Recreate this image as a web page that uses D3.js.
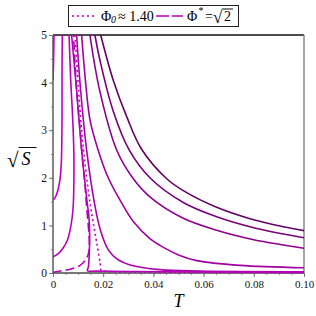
<!DOCTYPE html>
<html>
<head>
<meta charset="utf-8">
<script src="https://cdn.jsdelivr.net/npm/d3@7"></script>
<style>
  body { margin: 0; background: #fff; }
  svg { display: block; }
  svg text { font-family: "Liberation Serif", "Times New Roman", "DejaVu Serif", serif; }
</style>
</head>
<body>
<div id="chart"></div>
<script>
// each curve is a list of [T, sqrt(S)] points
const curveA = [[0, 4.05], [0.0001, 4.2], [0.0002, 4.4], [0.0003, 4.68], [0.0004, 5.0]];
const curveB = [[0, 1.53], [0.001, 1.6], [0.002, 1.75], [0.0028, 1.97], [0.0033, 2.3], [0.0035, 2.7],
                [0.0036, 3.3], [0.0036, 4.2], [0.0037, 5.0]];
const curveC = [[0, 0.34], [0.002, 0.4], [0.0041, 0.53], [0.0058, 0.7], [0.0068, 0.9], [0.0076, 1.15],
                [0.0081, 1.45], [0.0083, 1.85], [0.0083, 2.55], [0.0078, 3.3], [0.0071, 4.0], [0.0064, 5.0]];
const curveF = [[0.0074, 5.0], [0.0094, 3.84], [0.0114, 2.58], [0.0135, 1.53], [0.0143, 1.18], [0.0146, 0.8],
                [0.0145, 0.48], [0.0141, 0.13], [0.0137, 0.045], [0.0167, 0.04], [0.0307, 0.03],
                [0.0586, 0.02], [0.1, 0.012]];
// Phi* = sqrt(2), dashed
const curveStar = [[0, 0.0], [0.0008, 0.02], [0.0068, 0.08], [0.0105, 0.15], [0.0121, 0.22], [0.0135, 0.32],
                   [0.0143, 0.45], [0.0145, 0.62], [0.0141, 0.97], [0.0134, 1.39], [0.0127, 1.88],
                   [0.0118, 2.37], [0.0108, 3.0], [0.0094, 3.85], [0.0082, 5.0]];
// Phi_0 ~ 1.40, dotted
const curvePhi0 = [[0.0088, 5.0], [0.01, 4.0], [0.0114, 3.0], [0.0123, 2.52], [0.0137, 1.88], [0.015, 1.39],
                   [0.0163, 0.97], [0.0177, 0.55], [0.0188, 0.2], [0.0192, 0.06], [0.0207, 0.035],
                   [0.025, 0.025], [0.04, 0.015], [0.1, 0.008]];
const curveK = [[0.0094, 5.0], [0.011, 3.84], [0.0134, 2.58], [0.0163, 1.53], [0.0189, 0.9], [0.0221, 0.48],
                [0.0256, 0.29], [0.0307, 0.17], [0.0426, 0.07], [0.0586, 0.04], [0.1, 0.025]];
const curveG = [[0.0114, 5.0], [0.013, 4.0], [0.0148, 3.2], [0.018, 2.58], [0.022, 2.0], [0.0267, 1.53],
                [0.032, 1.08], [0.0386, 0.72], [0.0426, 0.58], [0.05, 0.38], [0.0573, 0.26],
                [0.0745, 0.16], [0.1, 0.11]];
const curveX = [[0.0147, 5.0], [0.0187, 3.81], [0.0254, 2.58], [0.032, 1.98], [0.0386, 1.6], [0.0519, 1.15],
                [0.0652, 0.9], [0.08, 0.7], [0.0918, 0.59], [0.1, 0.52]];
const curveY = [[0.0167, 5.0], [0.0187, 4.47], [0.024, 3.4], [0.0304, 2.58], [0.0386, 2.0], [0.0519, 1.48],
                [0.0652, 1.18], [0.08, 0.95], [0.1, 0.74]];
const curveZ = [[0.019, 5.0], [0.024, 4.05], [0.0294, 3.28], [0.0353, 2.6], [0.0453, 1.98], [0.0519, 1.73],
                [0.0652, 1.38], [0.0785, 1.14], [0.0918, 0.97], [0.1, 0.89]];

const xTicks = [0, 0.02, 0.04, 0.06, 0.08, 0.10];
const xTickLabels = ["0", "0.02", "0.04", "0.06", "0.08", "0.10"];
const yTicks = [0, 1, 2, 3, 4, 5];

// drawing order and look
const series = [
    {data: curveZ, color: "#650065", dash: null},
    {data: curveY, color: "#7a007a", dash: null},
    {data: curveX, color: "#8e008e", dash: null},
    {data: curveG, color: "#a200a2", dash: null},
    {data: curveK, color: "#ad00ad", dash: null},
    {data: curveF, color: "#b400b4", dash: null},
    {data: curveC, color: "#bb00bb", dash: null},
    {data: curveB, color: "#c000c0", dash: null},
    {data: curveA, color: "#c400c4", dash: null},
    {data: curveStar, color: "#b400b4", dash: "9,4"},
    {data: curvePhi0, color: "#c000c0", dash: "2,3"}
];

const width = 316, height = 316;
const margin = {top: 35, right: 12, bottom: 43, left: 53};
const serif = '"Liberation Serif", "Times New Roman", "DejaVu Serif", serif';

let svg = d3.select("#chart").append("svg")
    .attr("width", width)
    .attr("height", height);

let x = d3.scaleLinear().domain([0, 0.1]).range([margin.left, width - margin.right]);
let y = d3.scaleLinear().domain([0, 5]).range([height - margin.bottom, margin.top]);

svg.append("clipPath").attr("id", "plotclip")
    .append("rect")
    .attr("x", x(0)).attr("y", y(5) - 1)
    .attr("width", x(0.1) - x(0)).attr("height", y(0) - y(5) + 2);

//minor ticks
svg.append("g")
    .attr("transform", "translate(0," + y(0) + ")")
    .call(d3.axisBottom(x).tickValues(d3.range(0, 0.1001, 0.005)).tickSize(2).tickFormat(""))
    .call(g => g.select(".domain").remove())
    .selectAll("line").attr("stroke", "#888");
svg.append("g")
    .attr("transform", "translate(" + x(0) + ",0)")
    .call(d3.axisLeft(y).tickValues(d3.range(0, 5.01, 0.5)).tickSize(2).tickFormat(""))
    .call(g => g.select(".domain").remove())
    .selectAll("line").attr("stroke", "#888");

// main axes
let xAxis = svg.append("g")
    .attr("transform", "translate(0," + y(0) + ")")
    .call(d3.axisBottom(x).tickValues(xTicks).tickSize(4).tickPadding(3)
        .tickFormat((d, i) => xTickLabels[i]));
xAxis.select(".domain").remove();
xAxis.selectAll("line").attr("stroke", "#777");
xAxis.selectAll("text").attr("fill", "#111")
    .style("font-family", serif).style("font-size", "11px");

let yAxis = svg.append("g")
    .attr("transform", "translate(" + x(0) + ",0)")
    .call(d3.axisLeft(y).tickValues(yTicks).tickSize(4).tickPadding(2).tickFormat(d3.format("d")));
yAxis.select(".domain").remove();
yAxis.selectAll("line").attr("stroke", "#777");
yAxis.selectAll("text").attr("fill", "#111")
    .style("font-family", serif).style("font-size", "11.5px");

// frame: grey left/bottom/right, black top
svg.append("line").attr("x1", x(0)).attr("x2", x(0.1)).attr("y1", y(5)).attr("y2", y(5))
    .attr("stroke", "#111").attr("stroke-width", 1.5);
svg.append("line").attr("x1", x(0.1)).attr("x2", x(0.1)).attr("y1", y(5)).attr("y2", y(0))
    .attr("stroke", "#888").attr("stroke-width", 1.5);
svg.append("line").attr("x1", x(0)).attr("x2", x(0.1)).attr("y1", y(0)).attr("y2", y(0))
    .attr("stroke", "#777").attr("stroke-width", 1.8);
svg.append("line").attr("x1", x(0)).attr("x2", x(0)).attr("y1", y(5)).attr("y2", y(0))
    .attr("stroke", "#777").attr("stroke-width", 1.8);

let line = d3.line()
    .x(d => x(d[0]))
    .y(d => y(d[1]))
    .curve(d3.curveCatmullRom.alpha(0.5));

svg.append("g").attr("clip-path", "url(#plotclip)")
    .selectAll("path").data(series).enter().append("path")
    .attr("d", d => line(d.data))
    .attr("fill", "none")
    .attr("stroke", d => d.color)
    .attr("stroke-width", 1.6)
    .attr("stroke-dasharray", d => d.dash);

// axis titles
svg.append("text").attr("x", (x(0) + x(0.1)) / 2).attr("y", 306.5)
    .attr("text-anchor", "middle").style("font-size", "18px").style("font-style", "italic")
    .text("T");

svg.append("text").attr("x", 7).attr("y", 167).style("font-size", "21px").text("\u221A");
svg.append("text").attr("x", 21.5).attr("y", 165).style("font-size", "18px").style("font-style", "italic").text("S");
svg.append("line").attr("x1", 18.5).attr("x2", 36.5).attr("y1", 147.5).attr("y2", 147.5)
    .attr("stroke", "#111").attr("stroke-width", 1);

// legend
let legend = svg.append("g");
legend.append("rect").attr("x", 68.5).attr("y", 5.5).attr("width", 170).attr("height", 21)
    .attr("fill", "#fff").attr("stroke", "#222").attr("stroke-width", 1);
legend.append("line").attr("x1", 72).attr("x2", 97).attr("y1", 16).attr("y2", 16)
    .attr("stroke", "#c000c0").attr("stroke-width", 1.6).attr("stroke-dasharray", "2,3");
legend.append("text").attr("x", 101).attr("y", 20.5).style("font-size", "14px").text("\u03A6");
legend.append("text").attr("x", 111).attr("y", 23).style("font-size", "10px").style("font-style", "italic").text("0");
legend.append("text").attr("x", 118).attr("y", 20.5).style("font-size", "14px").text("\u2248 1.40");
legend.append("line").attr("x1", 156).attr("x2", 183).attr("y1", 16).attr("y2", 16)
    .attr("stroke", "#b400b4").attr("stroke-width", 1.6).attr("stroke-dasharray", "13,3");
legend.append("text").attr("x", 187).attr("y", 20.5).style("font-size", "14px").text("\u03A6");
legend.append("text").attr("x", 198.5).attr("y", 14).style("font-size", "10px").text("*");
legend.append("text").attr("x", 205).attr("y", 20.5).style("font-size", "14px").text("=");
legend.append("text").attr("x", 213).attr("y", 23).style("font-size", "17px").text("\u221A");
legend.append("text").attr("x", 224).attr("y", 21).style("font-size", "14px").text("2");
legend.append("line").attr("x1", 222).attr("x2", 233).attr("y1", 9).attr("y2", 9)
    .attr("stroke", "#111").attr("stroke-width", 1);
</script>
</body>
</html>
